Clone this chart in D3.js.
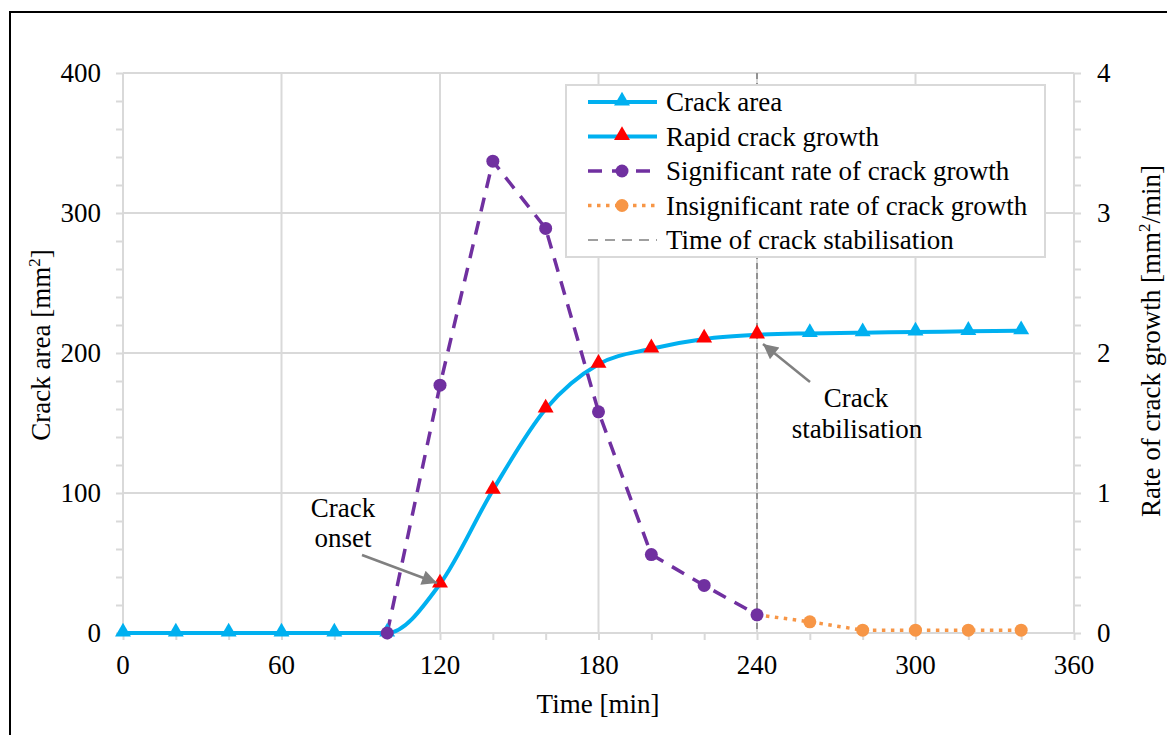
<!DOCTYPE html>
<html>
<head>
<meta charset="utf-8">
<script src="https://cdn.jsdelivr.net/npm/d3@7"></script>
<style>
  html, body { margin: 0; padding: 0; background: #fff; }
  svg { display: block; font-family: "Liberation Serif", "Times New Roman", serif; }
</style>
</head>
<body>
<svg id="chart" width="1167" height="735"></svg>
<script>
// ---- Data ----
const areaTime = [0, 20, 40, 60, 80, 100, 120, 140, 160, 180, 200, 220, 240, 260, 280, 300, 320, 340];
const crackArea = [0, 0, 0, 0, 0, 0, 35, 102, 160, 192, 203, 210, 213, 214, 214.5, 215, 215.5, 216];
const rapidTime = [120, 140, 160, 180, 200, 220, 240];
const sigTime = [100, 120, 140, 160, 180, 200, 220, 240];
const sigRate = [0, 1.77, 3.37, 2.89, 1.58, 0.56, 0.34, 0.13];
const insigTime = [240, 260, 280, 300, 320, 340];
const insigRate = [0.13, 0.08, 0.02, 0.02, 0.02, 0.02];
const stabilisationTime = 240;
const xTicks = [0, 60, 120, 180, 240, 300, 360];
const yLeftTicks = [0, 100, 200, 300, 400];
const yRightTicks = [0, 1, 2, 3, 4];
const legendLabels = ["Crack area", "Rapid crack growth", "Significant rate of crack growth",
  "Insignificant rate of crack growth", "Time of crack stabilisation"];

// ---- Styles ----
const C = { blue: "#00b0f0", red: "#ff0000", purple: "#7030a0", orange: "#f79646", grey: "#808080", grid: "#d9d9d9" };
const FS = 27;
const FF = "'Liberation Serif', 'Times New Roman', serif";

const svg = d3.select("#chart").attr("font-family", FF);
const m = { left: 123, right: 1074, top: 73, bottom: 633 };

const x = d3.scaleLinear().domain([0, 360]).range([m.left, m.right]);
const yL = d3.scaleLinear().domain([0, 400]).range([m.bottom, m.top]);
const yR = d3.scaleLinear().domain([0, 4]).range([m.bottom, m.top]);

// Outer border
svg.append("rect").attr("x", 10).attr("y", 12).attr("width", 1300).attr("height", 900)
  .attr("fill", "#fff").attr("stroke", "#000").attr("stroke-width", 2);

// Gridlines
const grid = svg.append("g");
grid.selectAll(".hg").data(yLeftTicks.filter(d => d > 0)).join("line")
  .attr("x1", m.left).attr("x2", m.right).attr("y1", d => yL(d)).attr("y2", d => yL(d))
  .attr("stroke", C.grid).attr("stroke-width", 2);
grid.selectAll(".vg").data(xTicks.filter(d => d > 0)).join("line")
  .attr("y1", m.top).attr("y2", m.bottom).attr("x1", d => x(d)).attr("x2", d => x(d))
  .attr("stroke", C.grid).attr("stroke-width", 2);

// Axes (grey lines + minor ticks)
function styleAxis(g) {
  g.select(".domain").remove();
  g.selectAll(".tick line").attr("stroke", C.grid).attr("stroke-width", 2);
  g.selectAll(".tick text").remove();
}
const xMinor = d3.range(0, 361, 20);
svg.append("g").attr("transform", `translate(0,${m.bottom})`)
  .call(d3.axisBottom(x).tickValues(xMinor).tickSize(7)).call(styleAxis);
svg.append("g").attr("transform", `translate(${m.left},0)`)
  .call(d3.axisLeft(yL).tickValues(d3.range(0, 401, 20)).tickSize(7)).call(styleAxis);
svg.append("g").attr("transform", `translate(${m.right},0)`)
  .call(d3.axisRight(yR).tickValues(d3.range(0, 4.01, 0.2)).tickSize(7)).call(styleAxis);
svg.append("line").attr("x1", m.left).attr("x2", m.right).attr("y1", m.bottom).attr("y2", m.bottom)
  .attr("stroke", C.grid).attr("stroke-width", 2);
svg.append("line").attr("x1", m.left).attr("x2", m.left).attr("y1", m.top).attr("y2", m.bottom)
  .attr("stroke", C.grid).attr("stroke-width", 2);
svg.append("line").attr("x1", m.right).attr("x2", m.right).attr("y1", m.top).attr("y2", m.bottom)
  .attr("stroke", C.grid).attr("stroke-width", 2);

// Tick labels
const lab = svg.append("g").attr("font-size", FS).attr("fill", "#000");
lab.selectAll(".xl").data(xTicks).join("text")
  .attr("x", d => x(d)).attr("y", 674).attr("text-anchor", "middle").text(d => d);
lab.selectAll(".yl").data(yLeftTicks).join("text")
  .attr("x", 101).attr("y", d => yL(d) + 9).attr("text-anchor", "end").text(d => d);
lab.selectAll(".yr").data(yRightTicks).join("text")
  .attr("x", 1097).attr("y", d => yR(d) + 9).attr("text-anchor", "start").text(d => d);

// Axis titles
lab.append("text").attr("x", 598).attr("y", 713).attr("text-anchor", "middle").text("Time [min]");
const tl = lab.append("text").attr("transform", "translate(50,345) rotate(-90)").attr("text-anchor", "middle");
tl.append("tspan").text("Crack area [mm");
tl.append("tspan").attr("font-size", 17).attr("dy", -10).text("2");
tl.append("tspan").attr("dy", 10).text("]");
const tr = lab.append("text").attr("transform", "translate(1160,341) rotate(-90)").attr("text-anchor", "middle");
tr.append("tspan").text("Rate of crack growth [mm");
tr.append("tspan").attr("font-size", 17).attr("dy", -10).text("2");
tr.append("tspan").attr("dy", 10).text("/min]");

// Stabilisation line
svg.append("line").attr("x1", x(stabilisationTime)).attr("x2", x(stabilisationTime))
  .attr("y1", m.top).attr("y2", m.bottom)
  .attr("stroke", C.grey).attr("stroke-width", 1.6).attr("stroke-dasharray", "6,4");

// Crack area line
const areaData = areaTime.map((t, i) => ({ t, v: crackArea[i] }));
svg.append("path").datum(areaData)
  .attr("d", d3.line().x(d => x(d.t)).y(d => yL(d.v)).curve(d3.curveMonotoneX))
  .attr("fill", "none").attr("stroke", C.blue).attr("stroke-width", 4);

// Rate lines
const sigData = sigTime.map((t, i) => ({ t, v: sigRate[i] }));
const insData = insigTime.map((t, i) => ({ t, v: insigRate[i] }));
svg.append("path").datum(insData)
  .attr("d", d3.line().x(d => x(d.t)).y(d => yR(d.v)))
  .attr("fill", "none").attr("stroke", C.orange).attr("stroke-width", 3.5)
  .attr("stroke-dasharray", "3.5,5.5");
svg.append("path").datum(sigData)
  .attr("d", d3.line().x(d => x(d.t)).y(d => yR(d.v)))
  .attr("fill", "none").attr("stroke", C.purple).attr("stroke-width", 3.5)
  .attr("stroke-dasharray", "14,10");

// Markers
const tri = d3.symbol().type(d3.symbolTriangle).size(110);
svg.append("g").selectAll("path").data(areaData).join("path")
  .attr("d", tri)
  .attr("transform", d => `translate(${x(d.t)},${yL(d.v) - 1})`)
  .attr("fill", d => rapidTime.includes(d.t) ? C.red : C.blue);
svg.append("g").selectAll("circle").data(insData.slice(1)).join("circle")
  .attr("cx", d => x(d.t)).attr("cy", d => yR(d.v)).attr("r", 6.5).attr("fill", C.orange);
svg.append("g").selectAll("circle").data(sigData).join("circle")
  .attr("cx", d => x(d.t)).attr("cy", d => yR(d.v)).attr("r", 6.5).attr("fill", C.purple);

// Annotations
svg.append("defs").append("marker").attr("id", "arr")
  .attr("viewBox", "0 0 10 10").attr("refX", 10).attr("refY", 5)
  .attr("markerWidth", 7).attr("markerHeight", 6).attr("orient", "auto")
  .attr("markerUnits", "strokeWidth")
  .append("path").attr("d", "M0,0 L10,5 L0,10 Z").attr("fill", C.grey);
svg.append("line").attr("x1", 362).attr("y1", 555).attr("x2", 437).attr("y2", 583)
  .attr("stroke", C.grey).attr("stroke-width", 2.5).attr("marker-end", "url(#arr)");
svg.append("line").attr("x1", 810).attr("y1", 382).attr("x2", 763).attr("y2", 344)
  .attr("stroke", C.grey).attr("stroke-width", 2.5).attr("marker-end", "url(#arr)");
const ann = svg.append("g").attr("font-size", FS).attr("text-anchor", "middle");
ann.append("text").attr("x", 343).attr("y", 517).text("Crack");
ann.append("text").attr("x", 343).attr("y", 547).text("onset");
ann.append("text").attr("x", 856).attr("y", 407).text("Crack");
ann.append("text").attr("x", 857).attr("y", 438).text("stabilisation");

// Legend
const lg = svg.append("g");
lg.append("rect").attr("x", 566).attr("y", 85).attr("width", 479).attr("height", 172)
  .attr("fill", "#fff").attr("stroke", C.grid).attr("stroke-width", 2);
const rows = legendLabels.map((label, i) => ({ label, i, y: 102 + i * 34.5 }));
const lx1 = 588, lx2 = 657, lxm = 622;
rows.forEach(r => {
  const g = lg.append("g");
  if (r.i <= 1) {
    g.append("line").attr("x1", lx1).attr("x2", lx2).attr("y1", r.y).attr("y2", r.y)
      .attr("stroke", C.blue).attr("stroke-width", 4);
    g.append("path").attr("d", tri).attr("transform", `translate(${lxm},${r.y - 1})`)
      .attr("fill", r.i === 0 ? C.blue : C.red);
  } else if (r.i === 2) {
    g.append("line").attr("x1", lx1).attr("x2", lx2).attr("y1", r.y).attr("y2", r.y)
      .attr("stroke", C.purple).attr("stroke-width", 3.5).attr("stroke-dasharray", "14,10");
    g.append("circle").attr("cx", lxm).attr("cy", r.y).attr("r", 6.5).attr("fill", C.purple);
  } else if (r.i === 3) {
    g.append("line").attr("x1", lx1).attr("x2", lx2).attr("y1", r.y).attr("y2", r.y)
      .attr("stroke", C.orange).attr("stroke-width", 3.5).attr("stroke-dasharray", "3.5,5.5");
    g.append("circle").attr("cx", lxm).attr("cy", r.y).attr("r", 6.5).attr("fill", C.orange);
  } else {
    g.append("line").attr("x1", lx1).attr("x2", lx2).attr("y1", r.y).attr("y2", r.y)
      .attr("stroke", C.grey).attr("stroke-width", 1.6).attr("stroke-dasharray", "10,7");
  }
  g.append("text").attr("x", 666).attr("y", r.y + 9).attr("font-size", FS).text(r.label);
});
</script>
</body>
</html>
